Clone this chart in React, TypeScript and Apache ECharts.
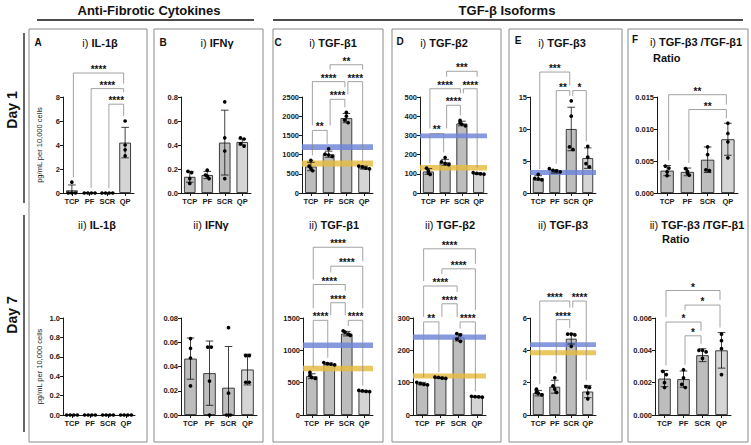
import React, { useEffect, useRef } from 'react';
import * as echarts from 'echarts';

const FONT = '"Liberation Sans", Arial, Helvetica, sans-serif';
const CATS = ['TCP', 'PF', 'SCR', 'QP'];

// ---------------- Day 1 ----------------
const IL1B_D1_AXIS = [0, 8, 2];
const IL1B_D1_MEAN = [0.22, 0, 0, 4.2];
const IL1B_D1_SD = [0.45, 0, 0, 1.27];
const IL1B_D1_DOTS = [[0.9, 0, 0, 0], [0, 0, 0, 0], [0, 0, 0, 0], [6.0, 4.0, 3.6, 3.1]];
const IL1B_D1_SIG: any[] = [[0, 3, 10.0, '****'], [1, 3, 8.7, '****'], [2, 3, 7.4, '****']];

const IFNG_D1_AXIS = [0, 0.8, 0.2];
const IFNG_D1_MEAN = [0.135, 0.15, 0.42, 0.425];
const IFNG_D1_SD = [0.045, 0.03, 0.27, 0.025];
const IFNG_D1_DOTS = [[0.18, 0.17, 0.12, 0.08], [0.19, 0.15, 0.14, 0.12], [0.76, 0.46, 0.35, 0.12], [0.46, 0.45, 0.41, 0.39]];

const TGFB1_D1_AXIS = [0, 2500, 500];
const TGFB1_D1_MEAN = [690, 1010, 1950, 660];
const TGFB1_D1_SD = [110, 80, 120, 40];
const TGFB1_D1_DOTS = [[850, 700, 640, 580], [1150, 1010, 990, 950], [2100, 2000, 1900, 1830], [700, 680, 650, 630]];
const TGFB1_D1_BLUE = [1120, 1270];
const TGFB1_D1_YELLOW = [690, 845];
const TGFB1_D1_SIG: any[] = [[0, 1, 1630, '**'], [1, 2, 2440, '****'], [0, 2, 2900, '****'], [2, 3, 2900, '****'], [1, 3, 3340, '**']];

const TGFB2_D1_AXIS = [0, 500, 100];
const TGFB2_D1_MEAN = [112, 160, 362, 101];
const TGFB2_D1_SD = [15, 15, 12, 4];
const TGFB2_D1_DOTS = [[130, 115, 105, 97], [185, 162, 153, 148], [378, 365, 358, 350], [106, 102, 100, 98]];
const TGFB2_D1_BLUE = [285, 310];
const TGFB2_D1_YELLOW = [117, 146];
const TGFB2_D1_SIG: any[] = [[0, 1, 310, '**'], [1, 2, 457, '****'], [0, 2, 543, '****'], [2, 3, 543, '****'], [1, 3, 634, '***']];

const TGFB3_D1_AXIS = [0, 15, 5];
const TGFB3_D1_MEAN = [2.35, 3.35, 10.0, 5.45];
const TGFB3_D1_SD = [0.35, 0.25, 3.4, 1.6];
const TGFB3_D1_DOTS = [[2.9, 2.3, 2.2, 2.05], [3.8, 3.55, 3.45, 3.3], [14.4, 12.0, 7.2, 6.8], [7.3, 5.6, 4.6, 4.1]];
const TGFB3_D1_BLUE = [2.8, 3.6];
const TGFB3_D1_SIG: any[] = [[0, 2, 18.9, '***'], [1, 2, 16.0, '**'], [2, 3, 16.0, '*']];

const RATIO_D1_AXIS = [0, 0.015, 0.005];
const RATIO_D1_MEAN = [0.0035, 0.0033, 0.0052, 0.0084];
const RATIO_D1_SD = [0.0008, 0.0006, 0.002, 0.0025];
const RATIO_D1_DOTS = [[0.0042, 0.0039, 0.0033, 0.0027], [0.0038, 0.0034, 0.0031, 0.0028], [0.0072, 0.006, 0.0036, 0.0035], [0.0109, 0.0093, 0.008, 0.0055]];
const RATIO_D1_SIG: any[] = [[0, 3, 0.01536, '**'], [1, 3, 0.01304, '**']];

// ---------------- Day 7 ----------------
const IL1B_D7_AXIS = [0, 1.0, 0.2];
const IL1B_D7_MEAN = [0, 0, 0, 0];
const IL1B_D7_SD = [0, 0, 0, 0];
const IL1B_D7_DOTS = [[0, 0, 0, 0], [0, 0, 0, 0], [0, 0, 0, 0], [0, 0, 0, 0]];

const IFNG_D7_AXIS = [0, 0.08, 0.02];
const IFNG_D7_MEAN = [0.0465, 0.0345, 0.0225, 0.0375];
const IFNG_D7_SD = [0.017, 0.0265, 0.034, 0.0127];
const IFNG_D7_DOTS = [[0.063, 0.055, 0.047, 0.024], [0.056, 0.056, 0.028, 0.0], [0.072, 0.018, 0.0, 0.0], [0.049, 0.049, 0.027, 0.027]];

const TGFB1_D7_AXIS = [0, 1500, 500];
const TGFB1_D7_MEAN = [600, 790, 1258, 370];
const TGFB1_D7_SD = [38, 15, 35, 10];
const TGFB1_D7_DOTS = [[660, 610, 580, 565], [810, 795, 785, 775], [1300, 1280, 1250, 1230], [380, 372, 365, 360]];
const TGFB1_D7_BLUE = [1037, 1120];
const TGFB1_D7_YELLOW = [678, 760];
const TGFB1_D7_SIG: any[] = [[0, 3, 2594, '****'], [1, 3, 2301, '****'], [0, 2, 2018, '****'], [1, 2, 1736, '****'], [0, 1, 1464, '****'], [2, 3, 1464, '****']];

const TGFB2_D7_AXIS = [0, 300, 100];
const TGFB2_D7_MEAN = [97, 115, 240, 56.5];
const TGFB2_D7_SD = [4, 2, 11, 1.5];
const TGFB2_D7_DOTS = [[101, 98, 95, 93], [117, 116, 114, 113], [252, 248, 235, 228], [58, 57, 56, 55]];
const TGFB2_D7_BLUE = [233, 249];
const TGFB2_D7_YELLOW = [113, 128];
const TGFB2_D7_SIG: any[] = [[0, 3, 514, '****'], [1, 3, 452, '****'], [0, 2, 399, '****'], [1, 2, 344, '****'], [0, 1, 288, '**'], [2, 3, 288, '****']];

const TGFB3_D7_AXIS = [0, 6, 2];
const TGFB3_D7_MEAN = [1.35, 1.75, 4.72, 1.45];
const TGFB3_D7_SD = [0.17, 0.4, 0.33, 0.38];
const TGFB3_D7_DOTS = [[1.6, 1.4, 1.35, 1.25], [2.3, 1.8, 1.6, 1.4], [5.0, 5.0, 4.95, 4.25], [1.75, 1.7, 1.35, 1.0]];
const TGFB3_D7_BLUE = [4.2, 4.5];
const TGFB3_D7_YELLOW = [3.7, 4.0];
const TGFB3_D7_SIG: any[] = [[0, 2, 7.05, '****'], [1, 2, 5.9, '****'], [2, 3, 7.05, '****']];

const RATIO_D7_AXIS = [0, 0.006, 0.002];
const RATIO_D7_MEAN = [0.00225, 0.00222, 0.0037, 0.004];
const RATIO_D7_SD = [0.0005, 0.0005, 0.0004, 0.0011];
const RATIO_D7_DOTS = [[0.0027, 0.0025, 0.002, 0.0017], [0.0028, 0.0023, 0.0019, 0.0017], [0.004, 0.004, 0.0039, 0.0035], [0.005, 0.0046, 0.0041, 0.0025]];
const RATIO_D7_SIG: any[] = [[0, 3, 0.0077, '*'], [1, 3, 0.0068, '*'], [0, 2, 0.00575, '*'], [1, 2, 0.0049, '*']];

// ---------------- styles / layout ----------------
const BLUE = '#6c84d8';
const YELLOW = '#e6bb3e';
const BAR_FILL = ['#bdbdbd', '#bdbdbd', '#bdbdbd', '#d5d5d5'];
const INK = '#1a1a1a';
const BRACKET = '#8c8c8c';

const PANELS: any[] = [
  { g: [63, 134, 97, 96], axis: IL1B_D1_AXIS, mean: IL1B_D1_MEAN, sd: IL1B_D1_SD, dots: IL1B_D1_DOTS, sig: IL1B_D1_SIG, bands: [], dec: 0, yName: true },
  { g: [181, 251, 97, 96], axis: IFNG_D1_AXIS, mean: IFNG_D1_MEAN, sd: IFNG_D1_SD, dots: IFNG_D1_DOTS, sig: [], bands: [], dec: 1 },
  { g: [302, 373, 97, 96], axis: TGFB1_D1_AXIS, mean: TGFB1_D1_MEAN, sd: TGFB1_D1_SD, dots: TGFB1_D1_DOTS, sig: TGFB1_D1_SIG, bands: [[TGFB1_D1_BLUE, BLUE], [TGFB1_D1_YELLOW, YELLOW]], dec: 0 },
  { g: [420, 487, 97, 96], axis: TGFB2_D1_AXIS, mean: TGFB2_D1_MEAN, sd: TGFB2_D1_SD, dots: TGFB2_D1_DOTS, sig: TGFB2_D1_SIG, bands: [[TGFB2_D1_BLUE, BLUE], [TGFB2_D1_YELLOW, YELLOW]], dec: 0 },
  { g: [530, 596, 97, 96], axis: TGFB3_D1_AXIS, mean: TGFB3_D1_MEAN, sd: TGFB3_D1_SD, dots: TGFB3_D1_DOTS, sig: TGFB3_D1_SIG, bands: [[TGFB3_D1_BLUE, BLUE]], dec: 0 },
  { g: [657, 738, 97, 96], axis: RATIO_D1_AXIS, mean: RATIO_D1_MEAN, sd: RATIO_D1_SD, dots: RATIO_D1_DOTS, sig: RATIO_D1_SIG, bands: [], dec: 3 },
  { g: [63, 135, 318, 97], axis: IL1B_D7_AXIS, mean: IL1B_D7_MEAN, sd: IL1B_D7_SD, dots: IL1B_D7_DOTS, sig: [], bands: [], dec: 1, yName: true },
  { g: [181, 257, 318, 97], axis: IFNG_D7_AXIS, mean: IFNG_D7_MEAN, sd: IFNG_D7_SD, dots: IFNG_D7_DOTS, sig: [], bands: [], dec: 2 },
  { g: [303, 373, 318, 97], axis: TGFB1_D7_AXIS, mean: TGFB1_D7_MEAN, sd: TGFB1_D7_SD, dots: TGFB1_D7_DOTS, sig: TGFB1_D7_SIG, bands: [[TGFB1_D7_BLUE, BLUE], [TGFB1_D7_YELLOW, YELLOW]], dec: 0 },
  { g: [413, 486, 318, 97], axis: TGFB2_D7_AXIS, mean: TGFB2_D7_MEAN, sd: TGFB2_D7_SD, dots: TGFB2_D7_DOTS, sig: TGFB2_D7_SIG, bands: [[TGFB2_D7_BLUE, BLUE], [TGFB2_D7_YELLOW, YELLOW]], dec: 0 },
  { g: [530, 596, 318, 97], axis: TGFB3_D7_AXIS, mean: TGFB3_D7_MEAN, sd: TGFB3_D7_SD, dots: TGFB3_D7_DOTS, sig: TGFB3_D7_SIG, bands: [[TGFB3_D7_BLUE, BLUE], [TGFB3_D7_YELLOW, YELLOW]], dec: 0 },
  { g: [655, 731, 318, 97], axis: RATIO_D7_AXIS, mean: RATIO_D7_MEAN, sd: RATIO_D7_SD, dots: RATIO_D7_DOTS, sig: RATIO_D7_SIG, bands: [], dec: 3 },
];

const TITLES: any[] = [
  [100, 43, 'i) ', 'IL-1β'], [217, 43, 'i) ', 'IFNγ'], [333, 43, 'i) ', 'TGF-β1'], [444, 43, 'i) ', 'TGF-β2'],
  [562, 43, 'i) ', 'TGF-β3'], [696, 42, 'i) ', 'TGF-β3 /TGF-β1'],
  [97, 225, 'ii) ', 'IL-1β'], [211, 225, 'ii) ', 'IFNγ'], [334, 225, 'ii) ', 'TGF-β1'], [450, 225, 'ii) ', 'TGF-β2'],
  [563, 225, 'ii) ', 'TGF-β3'], [697, 225, 'ii) ', 'TGF-β3 /TGF-β1'],
];
const LETTERS: any[] = [['A', 38, 42], ['B', 163, 42], ['C', 278, 42], ['D', 400, 41], ['E', 518, 40], ['F', 635, 39]];
const BOXES: any[] = [[29, 147], [154, 263], [273, 383], [392, 501], [509, 622], [628, 748]];

function groupTop(p: any, k: number) {
  return Math.max(p.mean[k] + p.sd[k], ...p.dots[k]);
}

function buildOption() {
  const grid: any[] = [];
  const xAxis: any[] = [];
  const yAxis: any[] = [];
  const series: any[] = [];

  PANELS.forEach((p, i) => {
    const [x0, x1, top, h] = p.g;
    grid.push({ left: x0, top, width: x1 - x0, height: h, containLabel: false });
    xAxis.push({
      type: 'category', gridIndex: i, data: CATS, boundaryGap: true,
      axisLine: { show: true, lineStyle: { color: INK, width: 1 } },
      axisTick: { show: true, alignWithLabel: true, length: 3, lineStyle: { color: INK } },
      axisLabel: { interval: 0, fontSize: 7.5, fontWeight: 'bold', color: INK, fontFamily: FONT, margin: 4 },
    });
    yAxis.push({
      type: 'value', gridIndex: i, min: p.axis[0], max: p.axis[1], interval: p.axis[2],
      axisLine: { show: true, lineStyle: { color: INK, width: 1 } },
      axisTick: { show: true, length: 3, lineStyle: { color: INK } },
      splitLine: { show: false },
      axisLabel: { fontSize: 7.5, fontWeight: 'bold', color: INK, fontFamily: FONT, margin: 3, formatter: (v: number) => v.toFixed(p.dec) },
      name: p.yName ? 'pg/mL per 10,000 cells' : '',
      nameLocation: 'middle', nameGap: 20, nameRotate: 90,
      nameTextStyle: { fontSize: 7.5, color: INK, fontFamily: FONT },
    });

    series.push({
      type: 'bar', xAxisIndex: i, yAxisIndex: i, barWidth: '66%', z: 2,
      data: p.mean.map((m: number, k: number) => ({ value: m, itemStyle: { color: BAR_FILL[k], borderColor: '#2a2a2a', borderWidth: 0.9 } })),
    });

    if (p.bands.length) {
      series.push({
        type: 'custom', xAxisIndex: i, yAxisIndex: i, z: 3, clip: false,
        data: p.bands.map((b: any, bi: number) => [0, b[0][0], b[0][1], bi]),
        renderItem: (params: any, api: any) => {
          const cs = params.coordSys;
          const lo = api.coord([0, api.value(1)])[1];
          const hi = api.coord([0, api.value(2)])[1];
          const b = p.bands[api.value(3)];
          return { type: 'rect', shape: { x: cs.x, y: hi, width: cs.width, height: lo - hi }, style: { fill: b[1], opacity: 0.82 } };
        },
      });
    }

    series.push({
      type: 'custom', xAxisIndex: i, yAxisIndex: i, z: 4, clip: false,
      data: p.mean.map((m: number, k: number) => [k, m, p.sd[k]]),
      renderItem: (params: any, api: any) => {
        const c = api.value(0), m = api.value(1), s = api.value(2);
        if (!(s > 0)) return null;
        const lowV = Math.max(p.axis[0], m - s);
        const t = api.coord([c, m + s]);
        const b = api.coord([c, lowV]);
        const cw = 3.8;
        const st = { stroke: '#111', lineWidth: 0.8 };
        const ch: any[] = [
          { type: 'line', shape: { x1: t[0], y1: t[1], x2: b[0], y2: b[1] }, style: st },
          { type: 'line', shape: { x1: t[0] - cw, y1: t[1], x2: t[0] + cw, y2: t[1] }, style: st },
        ];
        if (m - s > p.axis[0]) ch.push({ type: 'line', shape: { x1: b[0] - cw, y1: b[1], x2: b[0] + cw, y2: b[1] }, style: st });
        return { type: 'group', children: ch };
      },
    });

    const dotData: any[] = [];
    p.dots.forEach((arr: number[], k: number) => arr.forEach((v, j) => dotData.push([k, v, j])));
    series.push({
      type: 'custom', xAxisIndex: i, yAxisIndex: i, z: 5, clip: false,
      data: dotData,
      renderItem: (params: any, api: any) => {
        const c = api.value(0), v = api.value(1), j = api.value(2);
        const arr: number[] = p.dots[c];
        const ys = arr.map((d) => api.coord([c, d])[1]);
        const mates: number[] = [];
        ys.forEach((y, q) => { if (Math.abs(y - ys[j]) < 3.4) mates.push(q); });
        const order = mates.indexOf(j);
        const off = (order - (mates.length - 1) / 2) * 3.6;
        const pt = api.coord([c, v]);
        return { type: 'circle', shape: { cx: pt[0] + off, cy: pt[1], r: 1.85 }, style: { fill: '#000' } };
      },
    });

    if (p.sig.length) {
      series.push({
        type: 'custom', xAxisIndex: i, yAxisIndex: i, z: 6, clip: false,
        data: p.sig.map((s: any) => [s[0], s[2], s[1]]),
        renderItem: (params: any, api: any) => {
          const idx = params.dataIndex;
          const s = p.sig[idx];
          const pa = api.coord([s[0], s[2]]);
          const pb = api.coord([s[1], s[2]]);
          const y = pa[1];
          const xa = pa[0] + 1.5, xb = pb[0] - 1.5;
          const legEnd = (k: number, x: number) => {
            let minY = api.coord([k, groupTop(p, k)])[1] - 5;
            p.sig.forEach((o: any, q: number) => {
              if (q === idx || o[2] >= s[2]) return;
              if (o[0] <= k && k <= o[1]) {
                const oy = api.coord([o[0], o[2]])[1];
                const ocx = (api.coord([o[0], o[2]])[0] + api.coord([o[1], o[2]])[0]) / 2;
                const halfW = o[3].length * 2.1 + 1.5;
                const ob = Math.abs(x - ocx) < halfW ? oy - 12 : oy - 5;
                minY = Math.min(minY, ob);
              }
            });
            return Math.max(minY, y);
          };
          const st = { stroke: BRACKET, lineWidth: 0.8, fill: 'none' };
          return {
            type: 'group',
            children: [
              { type: 'polyline', shape: { points: [[xa, legEnd(s[0], xa)], [xa, y], [xb, y], [xb, legEnd(s[1], xb)]] }, style: st },
              { type: 'text', x: (xa + xb) / 2, y: y - 3.5, style: { text: s[3], fontSize: 10, fontWeight: 'bold', fontFamily: FONT, fill: '#111', textAlign: 'center', textVerticalAlign: 'middle' } },
            ],
          };
        },
      });
    }
  });

  const graphic: any[] = [];
  BOXES.forEach(([a, b]) => graphic.push({ type: 'rect', shape: { x: a, y: 29, width: b - a, height: 413 }, style: { fill: 'none', stroke: '#8a8a8a', lineWidth: 1 } }));
  graphic.push({ type: 'text', x: 149, y: 10, style: { text: 'Anti-Fibrotic Cytokines', fontSize: 13, fontWeight: 'bold', fontFamily: FONT, fill: '#111', textAlign: 'center', textVerticalAlign: 'middle' } });
  graphic.push({ type: 'text', x: 507, y: 10, style: { text: 'TGF-β Isoforms', fontSize: 13, fontWeight: 'bold', fontFamily: FONT, fill: '#111', textAlign: 'center', textVerticalAlign: 'middle' } });
  graphic.push({ type: 'line', shape: { x1: 37, y1: 20, x2: 254, y2: 20 }, style: { stroke: '#111', lineWidth: 1.3 } });
  graphic.push({ type: 'line', shape: { x1: 273, y1: 20, x2: 743, y2: 20 }, style: { stroke: '#111', lineWidth: 1.3 } });
  graphic.push({ type: 'text', x: 12, y: 110, rotation: Math.PI / 2, style: { text: 'Day 1', fontSize: 14, fontWeight: 'bold', fontFamily: FONT, fill: '#111', textAlign: 'center', textVerticalAlign: 'middle' } });
  graphic.push({ type: 'text', x: 12, y: 315, rotation: Math.PI / 2, style: { text: 'Day 7', fontSize: 14, fontWeight: 'bold', fontFamily: FONT, fill: '#111', textAlign: 'center', textVerticalAlign: 'middle' } });
  graphic.push({ type: 'line', shape: { x1: 24, y1: 33, x2: 24, y2: 203 }, style: { stroke: '#111', lineWidth: 1.3 } });
  graphic.push({ type: 'line', shape: { x1: 24, y1: 215, x2: 24, y2: 432 }, style: { stroke: '#111', lineWidth: 1.3 } });
  LETTERS.forEach(([t, x, y]) => graphic.push({ type: 'text', x, y, style: { text: t, fontSize: 10, fontWeight: 'bold', fontFamily: FONT, fill: '#111', textAlign: 'center', textVerticalAlign: 'middle' } }));
  TITLES.forEach(([x, y, pre, main]) => graphic.push({
    type: 'text', x, y,
    style: {
      text: '{a|' + pre + '}{b|' + main + '}',
      rich: {
        a: { fontSize: 11, fontFamily: FONT, fill: '#111', color: '#111' },
        b: { fontSize: 11, fontWeight: 'bold', fontFamily: FONT, fill: '#111', color: '#111' },
      },
      textAlign: 'center', textVerticalAlign: 'middle',
    },
  }));
  graphic.push({ type: 'text', x: 653, y: 58, style: { text: 'Ratio', fontSize: 11, fontWeight: 'bold', fontFamily: FONT, fill: '#111', textAlign: 'left', textVerticalAlign: 'middle' } });
  graphic.push({ type: 'text', x: 662, y: 239, style: { text: 'Ratio', fontSize: 11, fontWeight: 'bold', fontFamily: FONT, fill: '#111', textAlign: 'left', textVerticalAlign: 'middle' } });

  return { animation: false, backgroundColor: '#ffffff', grid, xAxis, yAxis, series, graphic };
}

export default function App() {
  const ref = useRef<HTMLDivElement>(null);
  useEffect(() => {
    if (!ref.current) return;
    const chart = echarts.init(ref.current, undefined, { renderer: 'svg' });
    chart.setOption(buildOption() as any);
    return () => chart.dispose();
  }, []);
  return <div ref={ref} style={{ position: 'absolute', left: 0, top: 0, width: 751, height: 445 }} />;
}
